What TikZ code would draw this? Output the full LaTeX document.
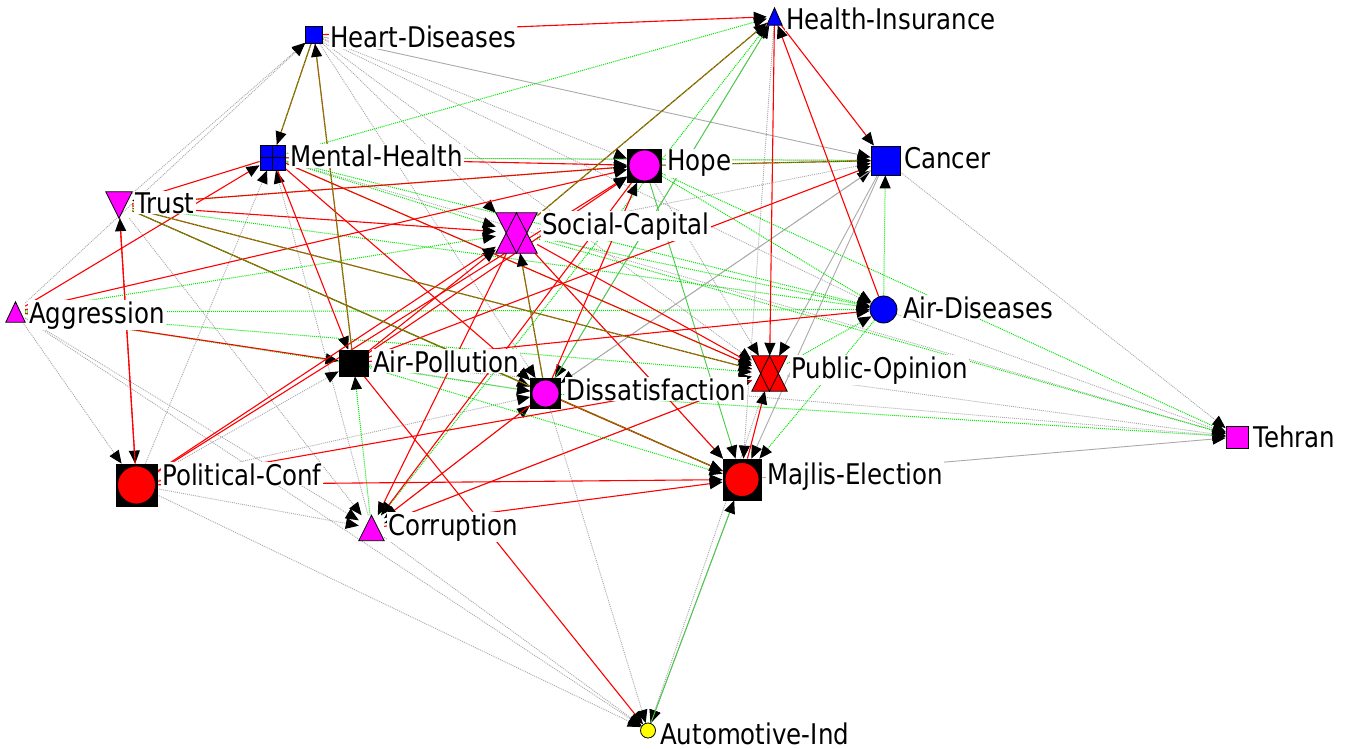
\documentclass[tikz,border=0pt]{standalone}
\usepackage{fontspec}
\setmainfont{DejaVu Sans}[FakeStretch=0.86]
\usetikzlibrary{arrows.meta}
\pgfdeclarelayer{edges}
\pgfsetlayers{edges,main}
\definecolor{ngreen}{RGB}{0,230,0}
\definecolor{sgreen}{RGB}{70,205,70}
\definecolor{ngray}{RGB}{170,170,170}
\definecolor{nred}{RGB}{255,0,0}
\definecolor{nblue}{RGB}{0,0,255}
\definecolor{nmag}{RGB}{255,0,255}
\definecolor{nyel}{RGB}{255,255,0}
\begin{document}
\begin{tikzpicture}[x=1pt,y=-1pt,
  withtip/.style={-{Triangle[length=13pt,width=11pt,color=black]}},
  ered/.style={draw=nred,line width=1.1pt,withtip},
  egrn/.style={draw=ngreen,line width=1pt,dash pattern=on 1pt off 1pt,withtip},
  egrs/.style={draw=sgreen,line width=0.9pt,withtip},
  egry/.style={draw=ngray,line width=0.9pt,dash pattern=on 1pt off 1pt,withtip},
  egys/.style={draw=ngray,line width=0.9pt,withtip},
  box/.style={draw=black,line width=0.8pt,inner sep=0pt,rectangle},
  ghost/.style={draw=none,inner sep=0pt,rectangle},
  shp/.style={draw=black,line width=0.8pt,line join=miter},
  lab/.style={anchor=base west,fill=white,inner sep=1pt,font=\fontsize{28.5}{31}\selectfont,text=black},
]
\useasboundingbox (0,0) rectangle (1349,749);

% ---------- nodes ----------
\node[box,fill=nblue,minimum size=17pt] (HD) at (314,35) {};
\node[ghost,minimum width=15pt,minimum height=17pt] (HI) at (774.5,16.5) {};
\filldraw[shp,fill=nblue] (HI.south west) -- (HI.south east) -- (HI.north) -- cycle;
\node[box,fill=nblue,minimum size=25pt] (MH) at (272.5,157.5) {};
\fill[black] (260,156.8) rectangle (285,158.4);
\fill[black] (271.7,145) rectangle (273.3,170);
\node[box,fill=black,minimum width=34pt,minimum height=33pt,
  path picture={\filldraw[fill=nmag,draw=black] (path picture bounding box.center) circle (15.5pt);}] (HO) at (644.5,165.5) {};
\node[box,fill=nblue,minimum size=29pt] (CA) at (885.5,160.5) {};
\node[ghost,minimum width=26pt,minimum height=26pt] (TR) at (119,205) {};
\filldraw[shp,fill=nmag] (TR.north west) -- (TR.north east) -- (TR.south) -- cycle;
\node[ghost,minimum width=41pt,minimum height=40pt] (SC) at (516.5,233) {};
\fill[nmag] (SC.north west) -- (SC.north east) -- (SC.south) -- cycle;
\fill[nmag] (SC.south west) -- (SC.south east) -- (SC.north) -- cycle;
\draw[shp] (SC.north west) -- (SC.north east) -- (SC.south) -- cycle;
\draw[shp] (SC.south west) -- (SC.south east) -- (SC.north) -- cycle;
\node[ghost,minimum width=19pt,minimum height=20pt] (AG) at (15.5,312) {};
\filldraw[shp,fill=nmag] (AG.south west) -- (AG.south east) -- (AG.north) -- cycle;
\node[circle,draw=black,line width=0.8pt,fill=nblue,inner sep=0pt,minimum size=27pt] (AD) at (883.5,309.5) {};
\node[box,fill=black,minimum width=29pt,minimum height=26pt] (AP) at (353.5,363) {};
\node[ghost,minimum width=35pt,minimum height=35pt] (PO) at (769.5,373.5) {};
\fill[nred] (PO.north west) -- (PO.north east) -- (PO.south) -- cycle;
\fill[nred] (PO.south west) -- (PO.south east) -- (PO.north) -- cycle;
\draw[shp] (PO.north west) -- (PO.north east) -- (PO.south) -- cycle;
\draw[shp] (PO.south west) -- (PO.south east) -- (PO.north) -- cycle;
\node[box,fill=black,minimum size=30pt,
  path picture={\filldraw[fill=nmag,draw=black] (path picture bounding box.center) circle (13.5pt);}] (DI) at (545.5,393.5) {};
\node[box,fill=nmag,minimum size=22pt] (TE) at (1237,437) {};
\node[box,fill=black,minimum width=41pt,minimum height=42pt,
  path picture={\filldraw[fill=nred,draw=black] (path picture bounding box.center) circle (19pt);}] (PC) at (136.5,485) {};
\node[box,fill=black,minimum width=38pt,minimum height=41pt,
  path picture={\filldraw[fill=nred,draw=black] (path picture bounding box.center) circle (17pt);}] (ME) at (742,479.5) {};
\node[ghost,minimum width=25pt,minimum height=25pt] (CO) at (371.5,528) {};
\filldraw[shp,fill=nmag] (CO.south west) -- (CO.south east) -- (CO.north) -- cycle;
\node[circle,draw=black,line width=0.8pt,fill=nyel,inner sep=0pt,minimum size=15pt] (AU) at (648,730.5) {};

% ---------- edges ----------
\begin{pgfonlayer}{edges}
\fill[white] (0,0) rectangle (1349,749);
% gray dotted
\foreach \a/\b in {AG/HD,TR/HD,HD/HO,HD/SC,HD/DI,HD/PO,HD/AD,PC/MH,CO/MH,AG/PC,AG/CO,AG/AU,
  PC/CO,PC/AU,TR/CO,CO/AU,DI/AU,PO/AU,CA/TE,AD/TE,AP/TE,MH/TE,PO/TE,MH/CA,SC/CA,HI/ME,HI/DI,
  DI/CA,SC/ME,CO/PO,CO/DI,PC/DI,PC/AP,HO/PO,AP/DI}
  \draw[egry] (\a) -- (\b);
% gray solid
\foreach \a/\b in {HD/CA,ME/TE,CA/ME,CA/PO,CA/DI,ME/AU}
  \draw[egys] (\a) -- (\b);
% green dotted
\foreach \a/\b in {MH/HI,CO/HI,TR/HO,TR/AD,AG/AD,AG/PO,AG/DI,MH/AD,MH/PO,MH/SC,HO/AD,HO/TE,
  SC/AD,SC/TE,DI/TE,AD/CA,AD/ME,CO/AP,AP/ME,PO/AD,AG/SC,MH/CA}
  \draw[egrn] (\a) -- (\b);
% green solid
\foreach \a/\b in {DI/HI,HO/ME,TR/DI,AU/ME}
  \draw[egrs] (\a) -- (\b);
% red
\foreach \a/\b in {HD/HI,HI/CA,HI/PO,AD/HI,MH/HO,MH/AP,MH/PO,MH/DI,MH/TR,TR/HO,TR/SC,TR/PC,PC/TR,
  AG/MH,AG/HO,AG/AP,AP/CA,AP/AD,AP/HO,AP/SC,AP/AU,SC/PO,SC/ME,PC/SC,PC/HO,PC/ME,PC/PO,SC/CO,
  HO/CO,PO/CO,CO/ME,DI/HO,DI/ME,ME/PO,DI/CO}
  \draw[ered] (\a) -- (\b);
% red + green
\foreach \a/\b in {HD/MH,AP/HD,SC/HI,HO/CA,TR/ME,TR/PO,DI/SC}
  {\draw[draw=nred,line width=1.1pt] (\a) -- (\b);
   \draw[egrn] (\a) -- (\b);}
\end{pgfonlayer}

% ---------- labels ----------
\node[lab] (HDl) at (329,48) {Heart-Diseases};
\node[lab] (HIl) at (785,30) {Health-Insurance};
\node[lab] (MHl) at (289,167) {Mental-Health};
\node[lab] (HOl) at (666,171) {Hope};
\node[lab] (CAl) at (903,168) {Cancer};
\node[lab] (TRl) at (134,213) {Trust};
\node[lab] (SCl) at (541,234) {Social-Capital};
\node[lab] (AGl) at (28,323) {Aggression};
\node[lab] (ADl) at (902,318) {Air-Diseases};
\node[lab] (APl) at (372,372) {Air-Pollution};
\node[lab] (POl) at (790,378) {Public-Opinion};
\node[lab] (DIl) at (565,400) {Dissatisfaction};
\node[lab] (TEl) at (1252,447) {Tehran};
\node[lab] (PCl) at (161,485) {Political-Conf};
\node[lab] (MEl) at (766,484) {Majlis-Election};
\node[lab] (COl) at (387,535) {Corruption};
\node[lab] (AUl) at (659,744) {Automotive-Ind};
\end{tikzpicture}
\end{document}
